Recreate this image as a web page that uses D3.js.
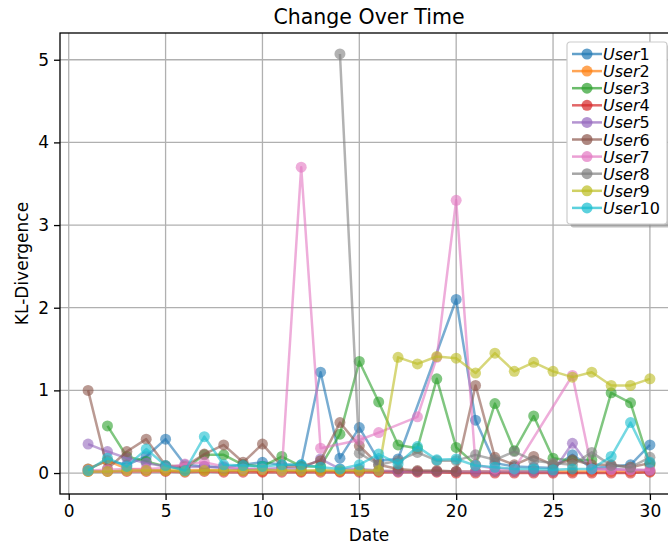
<!DOCTYPE html>
<html><head><meta charset="utf-8">
<script src="https://cdn.jsdelivr.net/npm/d3@7"></script>
<style>
html,body{margin:0;padding:0;background:#fff;}
svg{display:block;font-family:"DejaVu Sans",sans-serif;}
</style></head>
<body>
<svg id="c" width="668" height="546"></svg>
<script>
const dates = d3.range(1, 31);
const userNames = ["User1","User2","User3","User4","User5","User6","User7","User8","User9","User10"];
const colors = ["#1f77b4","#ff7f0e","#2ca02c","#d62728","#9467bd","#8c564b","#e377c2","#7f7f7f","#bcbd22","#17becf"];
const xTicks = [0,5,10,15,20,25,30];
const yTicks = [0,1,2,3,4,5];

// null = no observation on that date (line joins the neighbouring observations)
const user1  = [0.05,0.15,0.10,0.20,0.41,0.10,0.08,0.07,0.10,0.13,0.10,0.10,1.22,0.18,0.55,0.15,0.17,null,null,2.10,0.64,0.12,0.08,0.07,0.06,0.22,0.06,0.08,0.10,0.34];
const user2  = [0.05,0.15,0.05,0.04,0.03,0.03,0.04,0.03,0.03,0.02,0.03,0.02,0.03,0.02,0.03,0.02,0.03,0.02,0.02,0.02,0.02,0.02,0.02,0.02,0.02,0.02,0.02,0.02,0.02,0.02];
const user3  = [null,0.57,0.20,0.14,0.08,0.05,0.22,0.22,0.10,0.08,0.20,0.08,0.08,0.47,1.35,0.86,0.34,0.30,1.14,0.31,0.10,0.84,0.27,0.69,0.18,0.15,0.16,0.97,0.85,0.10];
const user4  = [0.02,0.02,0.02,0.02,0.02,0.01,0.02,0.01,0.01,0.01,0.01,0.01,0.01,0.01,0.01,0.01,0.01,0.01,0.01,0.00,0.00,0.00,0.00,0.00,0.00,0.00,0.00,0.00,0.00,0.01];
const user5  = [0.35,0.26,0.18,0.12,0.08,0.07,0.08,0.06,0.05,0.05,0.06,0.05,0.17,0.05,0.05,0.03,0.02,0.02,0.02,0.02,0.02,0.02,0.02,0.02,0.02,0.36,0.05,0.05,0.04,0.03];
const user6  = [1.00,0.05,0.26,0.41,0.09,0.08,0.23,0.34,0.13,0.35,0.08,0.08,0.15,0.61,0.33,0.10,0.05,0.03,0.03,0.02,1.06,0.19,0.10,0.20,0.10,0.16,0.10,0.10,0.07,0.12];
const user7  = [0.03,0.04,0.05,0.05,0.06,0.11,0.13,0.08,0.05,0.05,0.03,3.70,0.30,null,0.40,0.49,null,0.68,1.40,3.30,0.10,0.05,0.05,null,null,1.18,0.05,0.04,0.04,0.04];
const user8  = [null,null,null,null,null,null,null,null,null,null,null,null,null,5.07,0.24,0.10,0.15,0.25,0.15,0.15,0.22,0.16,0.26,0.15,0.12,0.10,0.25,0.09,0.07,0.19];
const user9  = [0.02,0.02,0.03,0.03,0.03,0.02,0.03,0.03,0.03,0.04,0.03,0.03,0.03,0.03,0.03,0.03,1.40,1.32,1.41,1.39,1.21,1.45,1.23,1.34,1.23,1.16,1.22,1.06,1.06,1.14];
const user10 = [0.03,0.18,0.08,0.29,0.09,0.03,0.44,0.10,0.09,0.08,0.10,0.10,0.07,0.05,0.10,0.23,0.11,0.32,0.16,0.17,0.09,0.07,0.05,0.05,0.04,0.05,0.05,0.20,0.61,0.13];
const seriesValues = [user1,user2,user3,user4,user5,user6,user7,user8,user9,user10];

const svg = d3.select("#c");
const L = 60, T = 33, R = 678, B = 494;
const x = d3.scaleLinear().domain([-0.45, 31.45]).range([L, R]);
const y = d3.scaleLinear().domain([-0.2535, 5.3235]).range([B, T]);

// grid
const grid = svg.append("g");
grid.selectAll("line.gx").data(xTicks).join("line")
  .attr("x1", d => x(d)).attr("x2", d => x(d)).attr("y1", T).attr("y2", B)
  .attr("stroke", "#b0b0b0").attr("stroke-width", 1.3);
grid.selectAll("line.gy").data(yTicks).join("line")
  .attr("y1", d => y(d)).attr("y2", d => y(d)).attr("x1", L).attr("x2", R)
  .attr("stroke", "#b0b0b0").attr("stroke-width", 1.3);

// series
const line = d3.line().x(d => x(d.date)).y(d => y(d.value));
seriesValues.forEach((vals, k) => {
  const pts = vals.map((v, i) => ({date: dates[i], value: v})).filter(p => p.value !== null);
  const g = svg.append("g");
  g.append("path").attr("d", line(pts)).attr("fill", "none")
    .attr("stroke", colors[k]).attr("stroke-width", 2.5).attr("stroke-opacity", 0.6)
    .attr("stroke-linejoin", "round");
  g.selectAll("circle").data(pts).join("circle")
    .attr("cx", d => x(d.date)).attr("cy", d => y(d.value)).attr("r", 5.5)
    .attr("fill", colors[k]).attr("fill-opacity", 0.6);
});

// axes
const xAxis = d3.axisBottom(x).tickValues(xTicks).tickSize(6).tickPadding(5).tickFormat(d3.format("d"));
const yAxis = d3.axisLeft(y).tickValues(yTicks).tickSize(6).tickPadding(5).tickFormat(d3.format("d"));
const gx = svg.append("g").attr("transform", `translate(0,${B})`).call(xAxis);
const gy = svg.append("g").attr("transform", `translate(${L},0)`).call(yAxis);
[gx, gy].forEach(g => {
  g.select(".domain").remove();
  g.selectAll("text").attr("font-size", 17).attr("fill", "#000").attr("font-family", "DejaVu Sans");
  g.selectAll("line").attr("stroke", "#000").attr("stroke-width", 1.3);
});
svg.append("rect").attr("x", L).attr("y", T).attr("width", R - L).attr("height", B - T)
  .attr("fill", "none").attr("stroke", "#000").attr("stroke-width", 1.3);

// titles
svg.append("text").attr("x", (L + R) / 2).attr("y", 24).attr("text-anchor", "middle")
  .attr("font-size", 20.5).text("Change Over Time");
svg.append("text").attr("x", (L + R) / 2).attr("y", 541).attr("text-anchor", "middle")
  .attr("font-size", 17).text("Date");
svg.append("text").attr("transform", `translate(28,${(T + B) / 2}) rotate(-90)`).attr("text-anchor", "middle")
  .attr("font-size", 17).text("KL-Divergence");

// legend
const lg = svg.append("g").attr("transform", "translate(567,42)");
lg.append("rect").attr("x", 3.5).attr("y", 3.5).attr("width", 100).attr("height", 182).attr("rx", 3)
  .attr("fill", "#808080").attr("fill-opacity", 0.5);
lg.append("rect").attr("x", 0).attr("y", 0).attr("width", 100).attr("height", 182).attr("rx", 3)
  .attr("fill", "#fff").attr("stroke", "#cccccc").attr("stroke-width", 1.2);
userNames.forEach((name, k) => {
  const yy = 12 + k * 17.1;
  lg.append("line").attr("x1", 5).attr("x2", 35).attr("y1", yy).attr("y2", yy)
    .attr("stroke", colors[k]).attr("stroke-width", 2.5).attr("stroke-opacity", 0.7);
  lg.append("circle").attr("cx", 20).attr("cy", yy).attr("r", 5.5).attr("fill", colors[k]).attr("fill-opacity", 0.7);
  const t = lg.append("text").attr("x", 36).attr("y", yy + 6).attr("font-size", 16);
  t.append("tspan").attr("font-style", "italic").text(name.replace(/\d+$/, ""));
  t.append("tspan").text(name.match(/\d+$/)[0]);
});
</script>
</body></html>
